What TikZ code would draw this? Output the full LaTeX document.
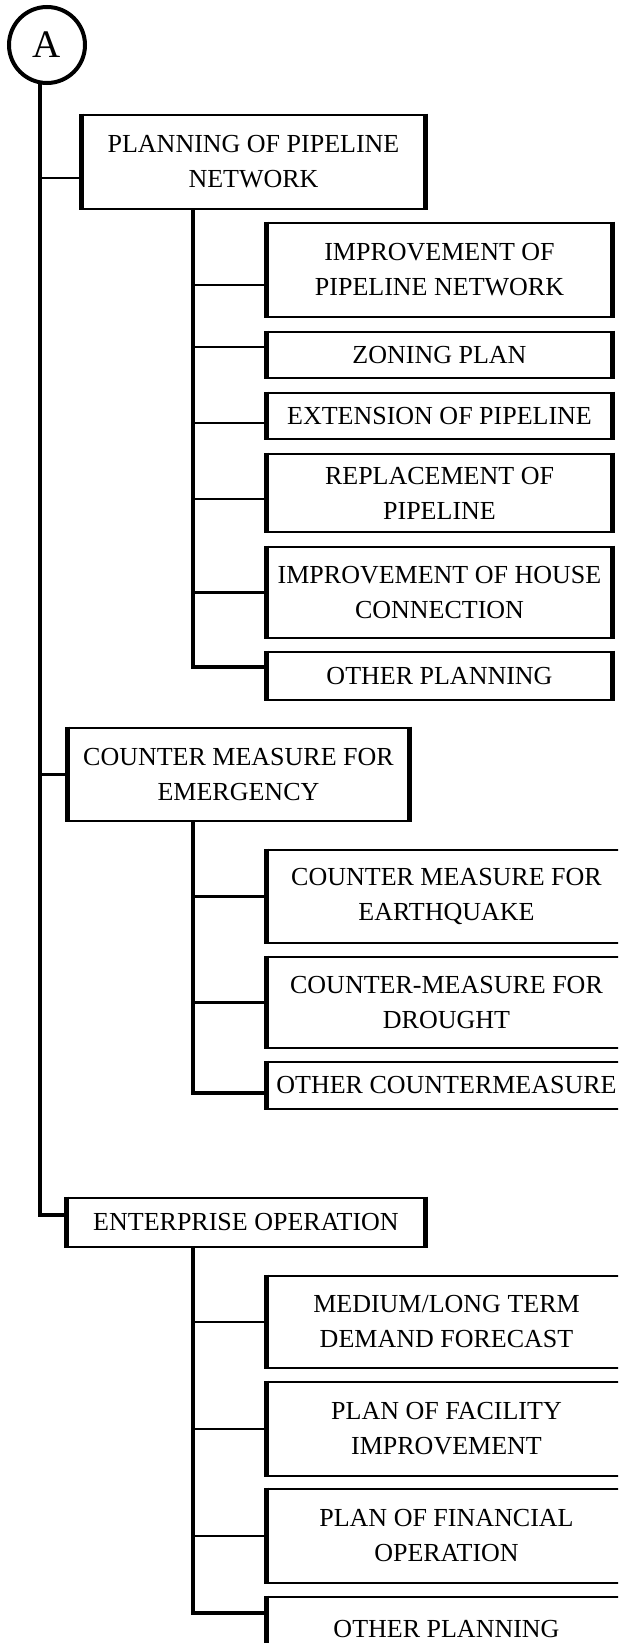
\documentclass[tikz,border=0pt]{standalone}
\usepackage{fontspec}
\setmainfont{Liberation Serif}
\begin{document}
\begin{tikzpicture}[x=0.5pt, y=-0.5pt,
  box/.style={draw, line width=1.3pt, inner sep=0pt, align=center,
              font=\fontsize{13}{17.5}\selectfont},
  sz/.style 2 args={minimum width=#1pt, minimum height=#2pt},
  side/.style={line width=2.3pt},
  trunk/.style={line width=2.4pt},
  branch/.style={line width=2pt},
  conn/.style={line width=1.4pt}]
\useasboundingbox (0,0) rectangle (618,1643);
\clip (0,0) rectangle (618,1643);

% start marker
\node[circle, draw, line width=2pt, minimum size=38pt, inner sep=0pt,
      font=\fontsize{19.5}{19.5}\selectfont] (A) at (47,45) {A};

% first-level items
\node[box, sz={170.5}{47}]   (P1) at (253.5,162)   {PLANNING OF PIPELINE\\NETWORK};
\node[box, sz={169.5}{46.5}] (P2) at (238.5,774.5) {COUNTER MEASURE FOR\\EMERGENCY};
\node[box, sz={178}{24.5}]   (P3) at (246,1222.5)  {ENTERPRISE OPERATION};

% pipeline network planning
\node[box, sz={171.5}{47}]   (C11) at (439.5,270)   {IMPROVEMENT OF\\PIPELINE NETWORK};
\node[box, sz={171.5}{23}]   (C12) at (439.5,355)   {ZONING PLAN};
\node[box, sz={171.5}{23}]   (C13) at (439.5,416)   {EXTENSION OF PIPELINE};
\node[box, sz={171.5}{39}]   (C14) at (439.5,493)   {REPLACEMENT OF\\PIPELINE};
\node[box, sz={171.5}{45.5}] (C15) at (439.5,592.5) {IMPROVEMENT OF HOUSE\\CONNECTION};
\node[box, sz={171.5}{24}]   (C16) at (439.5,676)   {OTHER PLANNING};

% emergency counter measures
\node[box, sz={178.5}{46.5}] (C21) at (446.5,896.5)  {COUNTER MEASURE FOR\\EARTHQUAKE};
\node[box, sz={178.5}{45.5}] (C22) at (446.5,1002.5) {COUNTER-MEASURE FOR\\DROUGHT};
\node[box, sz={178.5}{23.5}] (C23) at (446.5,1085.5) {OTHER COUNTERMEASURE};

% enterprise operation
\node[box, sz={178.5}{46}]   (C31) at (446.5,1322)   {MEDIUM/LONG TERM\\DEMAND FORECAST};
\node[box, sz={178.5}{47}]   (C32) at (446.5,1429)   {PLAN OF FACILITY\\IMPROVEMENT};
\node[box, sz={178.5}{47}]   (C33) at (446.5,1536)   {PLAN OF FINANCIAL\\OPERATION};
\node[box, sz={178.5}{31.5}] (C34) at (446.5,1628.5) {OTHER PLANNING};

% heavier vertical box edges
\foreach \n in {P1,P2,P3,C11,C12,C13,C14,C15,C16,C21,C22,C23,C31,C32,C33,C34}
  \draw[side] (\n.north west) -- (\n.south west) (\n.north east) -- (\n.south east);

% main trunk from the marker
\coordinate (t) at (A.260);
\draw[trunk] (t) |- ([yshift=3.75pt]P3.west);
\draw[conn] ([yshift=-8pt]P1.west) coordinate (k) -- (k -| t);
\draw[conn] (P2.west) -- (P2.west -| t);

% branch lines
\coordinate (b) at (193,0);
\draw[branch] (P1.south -| b) |- ([yshift=4.5pt]C16.west);
\draw[branch] (P2.south -| b) |- ([yshift=-3.75pt]C23.west);
\draw[branch] (P3.south -| b) |- ([yshift=7.75pt]C34.west);

\foreach \n/\dy in {C11/-7.5, C12/4, C13/-3.5, C14/-3, C15/0,
                    C21/0, C22/0, C31/0, C32/0, C33/0}
  \draw[conn] ([yshift=\dy pt]\n.west) coordinate (k) -- (k -| b);
\end{tikzpicture}
\end{document}
